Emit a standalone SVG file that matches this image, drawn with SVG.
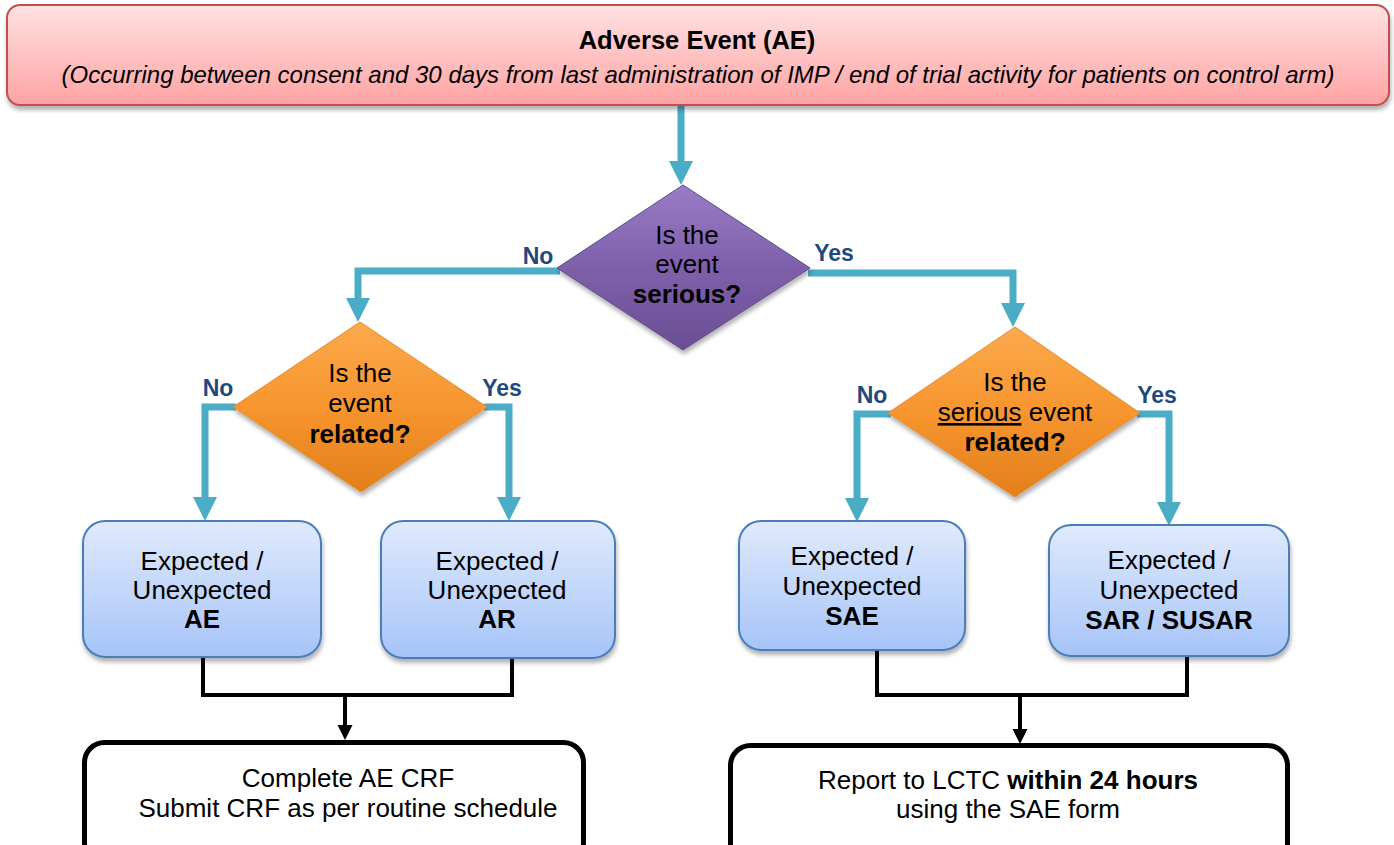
<svg xmlns="http://www.w3.org/2000/svg" width="1394" height="845" viewBox="0 0 1394 845">
<style>
text{font-family:"Liberation Sans",Arial,sans-serif;fill:#000;text-anchor:middle}
.t26{font-size:26px}
.b{font-weight:bold}
.lbl{font-size:23px;font-weight:bold;fill:#1F497D}
.teal{fill:none;stroke:#4BACC6;stroke-width:7}
.blk{fill:none;stroke:#000;stroke-width:4}
.blue{fill:url(#gBlue);stroke:#4A7EBB;stroke-width:2}
.orange{fill:url(#gOrange);stroke:#E98A2C;stroke-width:1}
.end{fill:#fff;stroke:#000;stroke-width:5}
</style>
<defs>
<linearGradient id="gRed" x1="0" y1="0" x2="0" y2="1"><stop offset="0" stop-color="#FFE2E2"/><stop offset="1" stop-color="#FFA3A3"/></linearGradient>
<linearGradient id="gBlue" x1="0" y1="0" x2="0" y2="1"><stop offset="0" stop-color="#E0EAFC"/><stop offset="1" stop-color="#A6C4F8"/></linearGradient>
<linearGradient id="gPurple" x1="0" y1="0" x2="0" y2="1"><stop offset="0" stop-color="#9A7CC6"/><stop offset="0.5" stop-color="#7E60AA"/><stop offset="1" stop-color="#6A4E95"/></linearGradient>
<linearGradient id="gOrange" x1="0" y1="0" x2="0" y2="1"><stop offset="0" stop-color="#FBAA4C"/><stop offset="0.5" stop-color="#F7952F"/><stop offset="1" stop-color="#E27F1C"/></linearGradient>
<filter id="sh" x="-10%" y="-10%" width="120%" height="130%"><feDropShadow dx="1" dy="4" stdDeviation="2" flood-color="#000" flood-opacity="0.3"/></filter>
<marker id="aTeal" viewBox="0 0 10 10" refX="0" refY="5" markerUnits="userSpaceOnUse" markerWidth="24" markerHeight="24" orient="auto"><path d="M0,0 L10,5 L0,10 z" fill="#4BACC6"/></marker>
<marker id="aBlk" viewBox="0 0 10 10" refX="0" refY="5" markerUnits="userSpaceOnUse" markerWidth="15" markerHeight="16" orient="auto"><path d="M0,0 L10,5 L0,10 z" fill="#000"/></marker>
</defs>
<rect width="1394" height="845" fill="#fff"/>
<g id="connectors">
<path class="teal" d="M681,106 V161" marker-end="url(#aTeal)"/>
<path class="teal" d="M560,271 H358 V298" marker-end="url(#aTeal)"/>
<path class="teal" d="M808,273 H1013 V303" marker-end="url(#aTeal)"/>
<path class="teal" d="M236,407 H205 V497" marker-end="url(#aTeal)"/>
<path class="teal" d="M484,407 H509 V497" marker-end="url(#aTeal)"/>
<path class="teal" d="M891,414 H857 V498" marker-end="url(#aTeal)"/>
<path class="teal" d="M1137,414 H1169 V502" marker-end="url(#aTeal)"/>
<path class="blk" d="M203,657 V695 H512 V658"/>
<path class="blk" d="M345,695 V725" marker-end="url(#aBlk)"/>
<path class="blk" d="M877,650 V695 H1187 V656"/>
<path class="blk" d="M1020,695 V729" marker-end="url(#aBlk)"/>
</g>
<g id="ae-start">
<rect x="7" y="5" width="1382" height="100" rx="13" fill="url(#gRed)" stroke="#C0504D" stroke-width="2" filter="url(#sh)"/>
<text x="697" y="49" class="b" font-size="25.5">Adverse Event (AE)</text>
<text x="698" y="83" font-size="24" font-style="italic">(Occurring between consent and 30 days from last administration of IMP / end of trial activity for patients on control arm)</text>
</g>
<g id="serious-decision">
<polygon points="683,185 810,268 683,350 557,268" fill="url(#gPurple)" stroke="#5F4B8B" stroke-width="1" filter="url(#sh)"/>
<text x="687" y="244" class="t26">Is the</text>
<text x="687" y="273" class="t26">event</text>
<text x="687" y="303" class="t26 b">serious?</text>
<text x="538" y="264" class="lbl">No</text>
<text x="834" y="261" class="lbl">Yes</text>
</g>
<g id="related-decision">
<polygon points="360,322 487,407 361,492 233,407" class="orange" filter="url(#sh)"/>
<text x="360" y="382" class="t26">Is the</text>
<text x="360" y="412" class="t26">event</text>
<text x="360" y="443" class="t26 b">related?</text>
<text x="218" y="396" class="lbl">No</text>
<text x="502" y="396" class="lbl">Yes</text>
</g>
<g id="serious-related-decision">
<polygon points="1015,327 1140,413 1015,497 888,413" class="orange" filter="url(#sh)"/>
<text x="1015" y="391" class="t26">Is the</text>
<text x="1015" y="421" class="t26"><tspan text-decoration="underline">serious</tspan> event</text>
<text x="1015" y="451" class="t26 b">related?</text>
<text x="872" y="403" class="lbl">No</text>
<text x="1157" y="403" class="lbl">Yes</text>
</g>
<g id="ae">
<rect x="83" y="521" width="238" height="136" rx="22" class="blue" filter="url(#sh)"/>
<text x="202" y="570" class="t26">Expected /</text>
<text x="202" y="599" class="t26">Unexpected</text>
<text x="202" y="628" class="t26 b">AE</text>
</g>
<g id="ar">
<rect x="381" y="521" width="234" height="137" rx="22" class="blue" filter="url(#sh)"/>
<text x="497" y="570" class="t26">Expected /</text>
<text x="497" y="599" class="t26">Unexpected</text>
<text x="497" y="628" class="t26 b">AR</text>
</g>
<g id="sae">
<rect x="739" y="521" width="226" height="129" rx="22" class="blue" filter="url(#sh)"/>
<text x="852" y="565" class="t26">Expected /</text>
<text x="852" y="595" class="t26">Unexpected</text>
<text x="852" y="625" class="t26 b">SAE</text>
</g>
<g id="sar-susar">
<rect x="1049" y="525" width="240" height="131" rx="22" class="blue" filter="url(#sh)"/>
<text x="1169" y="569" class="t26">Expected /</text>
<text x="1169" y="599" class="t26">Unexpected</text>
<text x="1169" y="629" class="t26 b">SAR / SUSAR</text>
</g>
<g id="complete-crf">
<rect x="84.5" y="742.5" width="499" height="120" rx="20" class="end"/>
<text x="348" y="787" class="t26">Complete AE CRF</text>
<text x="348" y="817" class="t26">Submit CRF as per routine schedule</text>
</g>
<g id="report-lctc">
<rect x="730.5" y="745.5" width="557" height="120" rx="20" class="end"/>
<text x="1008" y="789" class="t26">Report to LCTC <tspan class="b">within 24 hours</tspan></text>
<text x="1008" y="818" class="t26">using the SAE form</text>
</g>
</svg>
